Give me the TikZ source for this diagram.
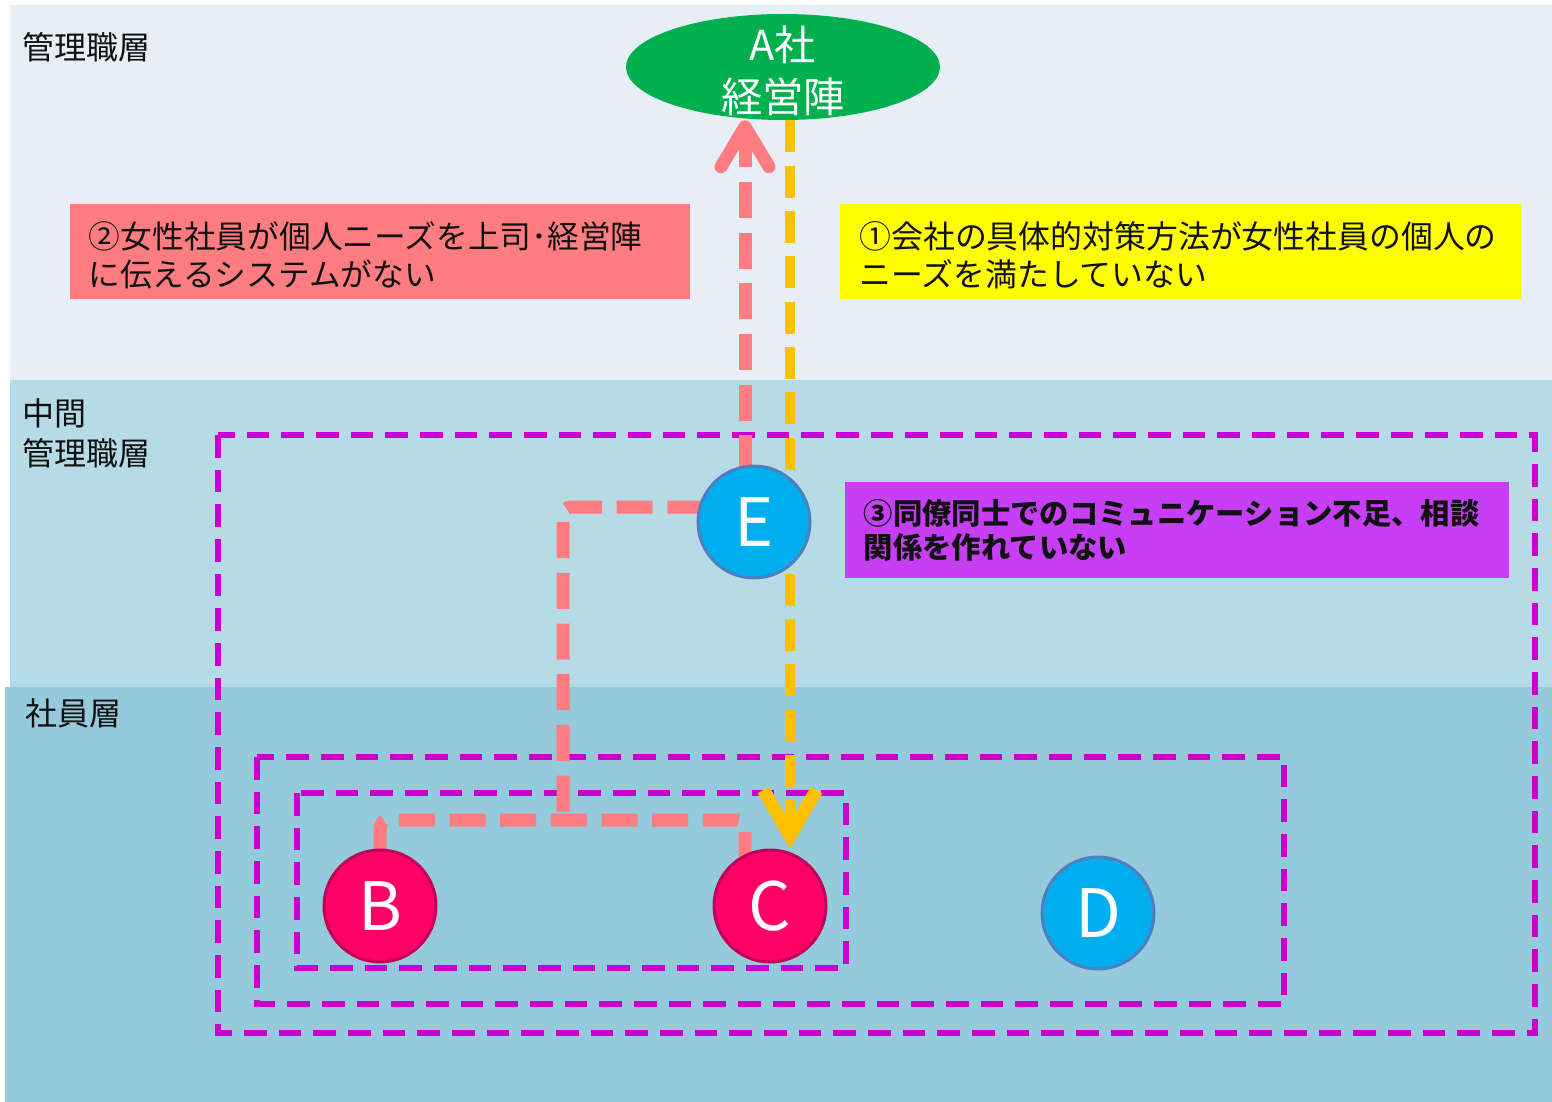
\documentclass[tikz,border=0pt]{standalone}
\usepackage{fontspec}
\setmainfont{Noto Sans CJK JP}
\usetikzlibrary{shapes.geometric,arrows.meta}
\definecolor{bandA}{HTML}{E7EEF6}
\definecolor{bandB}{HTML}{B5DCE6}
\definecolor{bandC}{HTML}{95CADC}
\definecolor{agreen}{HTML}{00B04F}
\definecolor{redbox}{HTML}{FF7C80}
\definecolor{yelbox}{HTML}{FFFF00}
\definecolor{purbox}{HTML}{C63FF7}
\definecolor{purdash}{HTML}{CC00CC}
\definecolor{pinkln}{HTML}{FF7C80}
\definecolor{yelln}{HTML}{FFC000}
\definecolor{cblue}{HTML}{00AEEF}
\definecolor{cblueedge}{HTML}{4F7FBD}
\definecolor{cred}{HTML}{FF0066}
\definecolor{crededge}{HTML}{C2005A}
\definecolor{txt}{HTML}{111111}
\pgfdeclarelayer{bg}
\pgfdeclarelayer{lines}
\pgfsetlayers{bg,lines,main}
\begin{document}
\begin{tikzpicture}[x=0.75pt,y=-0.75pt,
  lbl/.style={inner sep=0pt, text=txt, font=\fontsize{24pt}{30pt}\selectfont, align=left},
  boxnode/.style={anchor=north west, inner xsep=14pt, inner ysep=0pt, text=txt, align=left},
  circnode/.style={circle, minimum size=84pt, inner sep=0pt, line width=2.25pt, text=white, font=\fontsize{50pt}{50pt}\selectfont},
  bluecirc/.style={circnode, fill=cblue, draw=cblueedge},
  redcirc/.style={circnode, fill=cred, draw=crededge},
  purframe/.style={draw=purdash, line width=4.5pt, dash pattern=on 17pt off 9pt},
  pinkline/.style={draw=pinkln, line width=9.75pt, dash pattern=on 27pt off 11pt},
  yelline/.style={draw=yelln, line width=8pt, dash pattern=on 24pt off 10pt}
]
\useasboundingbox (0,0) rectangle (1552,1102);
\begin{pgfonlayer}{bg}
\fill[bandA] (10,5) rectangle (1552,380);
\fill[bandB] (10,380) rectangle (1552,687);
\fill[bandC] (5,687) rectangle (1552,1102);
\end{pgfonlayer}

% layer labels
\node[lbl, anchor=west] (lv1) at (22,47) {管理職層};
\node[lbl, anchor=west] (lv2) at (22,433) {中間\\管理職層};
\node[lbl, anchor=west] (lv3) at (25,713) {社員層};

% top ellipse
\node[ellipse, fill=agreen, minimum width=235.5pt, minimum height=79.5pt, inner sep=0pt,
  label={[text=white, align=center, font=\fontsize{31pt}{39pt}\selectfont, yshift=-3pt]center:A社\\経営陣}] (A) at (783,67) {};

% text boxes
\node[boxnode, fill=redbox, text width=437pt, minimum height=71.25pt,
  font=\fontsize{23.8pt}{28.5pt}\selectfont] (t2) at (70,204)
  {\rule{0pt}{26pt}②女性社員が個人ニーズを上司･経営陣\\に伝えるシステムがない};
\node[boxnode, fill=yelbox, text width=482pt, inner xsep=14.4pt, minimum height=71.25pt,
  font=\fontsize{23.9pt}{28.5pt}\selectfont] (t1) at (840,204)
  {\rule{0pt}{26pt}①会社の具体的対策方法が女性社員の個人の\\ニーズを満たしていない};
\node[boxnode, fill=purbox, text width=470pt, inner xsep=14pt, minimum height=72pt,
  font=\bfseries\fontsize{22pt}{25.5pt}\selectfont] (t3) at (845,482)
  {③同僚同士でのコミュニケーション不足、相談\\関係を作れていない};

% persons
\node[bluecirc] (E) at (754,522) {E};
\node[redcirc] (B) at (380,906) {B};
\node[redcirc] (C) at (770,906) {C};
\node[bluecirc] (D) at (1098,913) {D};

\coordinate (j) at (563,820);
\coordinate (px) at (745,0);
\coordinate (yx) at (790,0);

\begin{pgfonlayer}{lines}
% purple dashed groups
\draw[purframe] (218,435) rectangle (1535,1033);
\draw[purframe] (257,757) rectangle (1284,1004);
\draw[purframe] (297,793) rectangle (846,968);
% pink connections
\draw[pinkline, rounded corners=6pt] ([yshift=11.25pt]E.center) -| (j);
\draw[pinkline, rounded corners=6pt] (B.center) |- (j) -| (px |- C.center);
\draw[pinkline, -{Straight Barb[length=30pt, width=36pt, line width=9.75pt, round]}]
  (px |- E.center) -- (px |- A.south);
% yellow arrow
\draw[yelline, -{Straight Barb[length=34pt, width=40pt, line width=10pt]}]
  (yx |- A.south) -- (yx |- C.north);
\end{pgfonlayer}
\end{tikzpicture}
\end{document}
